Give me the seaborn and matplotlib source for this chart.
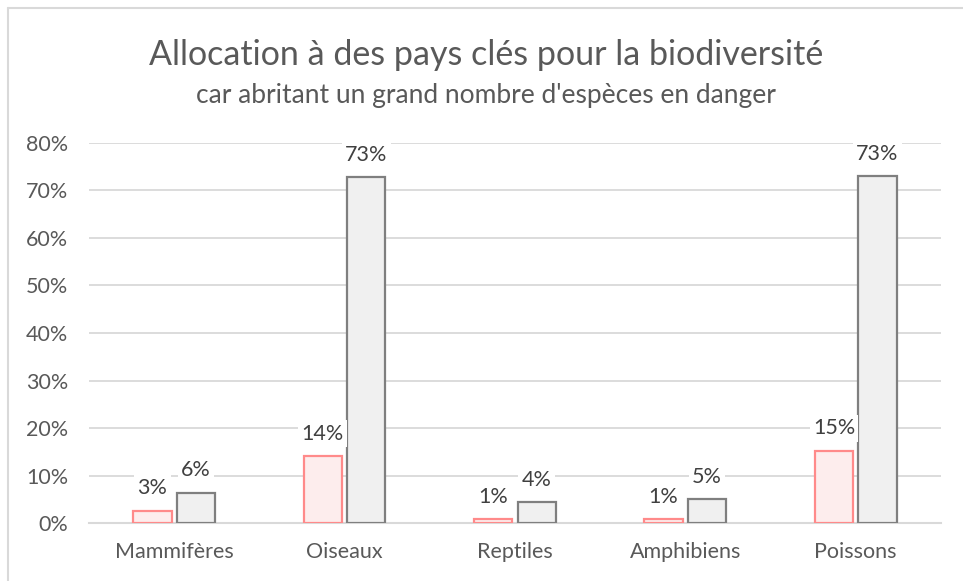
import matplotlib
matplotlib.use('Agg')
import matplotlib.pyplot as plt
import pandas as pd
import seaborn as sns
from matplotlib.ticker import FuncFormatter

# données (en %)
categories = ['Mammifères', 'Oiseaux', 'Reptiles', 'Amphibiens', 'Poissons']
allocation = [2.6, 14.1, 0.8, 0.8, 15.2]
especes = [6.4, 72.8, 4.4, 5.0, 73.0]
series = ['Allocation', "Espèces en danger"]
y_ticks = [0, 10, 20, 30, 40, 50, 60, 70, 80]

df = pd.DataFrame({
    'categorie': categories * 2,
    'valeur': allocation + especes,
    'serie': [series[0]] * len(categories) + [series[1]] * len(categories),
})

sns.set_theme(style='white')
plt.rcParams['font.family'] = ['Lato', 'DejaVu Sans']

fig = plt.figure(figsize=(9.63, 5.81), dpi=100)
ax = fig.add_axes([0.0924, 0.0998, 0.977 - 0.0924, 0.7539 - 0.0998])

sns.barplot(data=df, x='categorie', y='valeur', hue='serie', order=categories,
            hue_order=series, palette={series[0]: '#FFEBEB', series[1]: '#F0F0F0'},
            width=0.51, gap=0.12, legend=False, ax=ax, zorder=3)

edges = ['#FF8A8A', '#7F7F7F']
for cont, ec in zip(ax.containers, edges):
    for bar in cont:
        bar.set_edgecolor(ec)
        bar.set_linewidth(1.6)
    ax.bar_label(cont, labels=[f"{v:.0f}%" for v in cont.datavalues], padding=9,
                 fontsize=15.5, color='#404040', zorder=4,
                 bbox=dict(boxstyle='square,pad=0.15', fc='white', ec='none'))

ax.set_ylim(0, 80)
ax.set_xlim(-0.5, len(categories) - 0.5)
ax.set_yticks(y_ticks)
ax.yaxis.set_major_formatter(FuncFormatter(lambda v, p: f"{v:.0f}%"))
ax.grid(axis='y', color='#D9D9D9', linewidth=1.3, zorder=0)
ax.set_axisbelow(True)
for s in ['top', 'right', 'left']:
    ax.spines[s].set_visible(False)
ax.spines['bottom'].set_color('#D9D9D9')
ax.spines['bottom'].set_linewidth(1.5)
ax.tick_params(axis='both', length=0, labelsize=15.5, labelcolor='#595959')
ax.tick_params(axis='x', pad=14)
ax.tick_params(axis='y', pad=15)
ax.set_xlabel('')
ax.set_ylabel('')

fig.text(0.505, 0.905, 'Allocation à des pays clés pour la biodiversité',
         ha='center', va='center', fontsize=24.5, color='#595959')
fig.text(0.505, 0.836, "car abritant un grand nombre d'espèces en danger",
         ha='center', va='center', fontsize=19, color='#595959')

# cadre du graphique (bord gauche et haut visibles)
fig.add_artist(plt.Line2D([0.0085, 0.0085], [0, 0.986], color='#D9D9D9', lw=1.5))
fig.add_artist(plt.Line2D([0.0085, 1], [0.986, 0.986], color='#D9D9D9', lw=1.5))

fig.savefig('out.png', dpi=100, facecolor='white')
